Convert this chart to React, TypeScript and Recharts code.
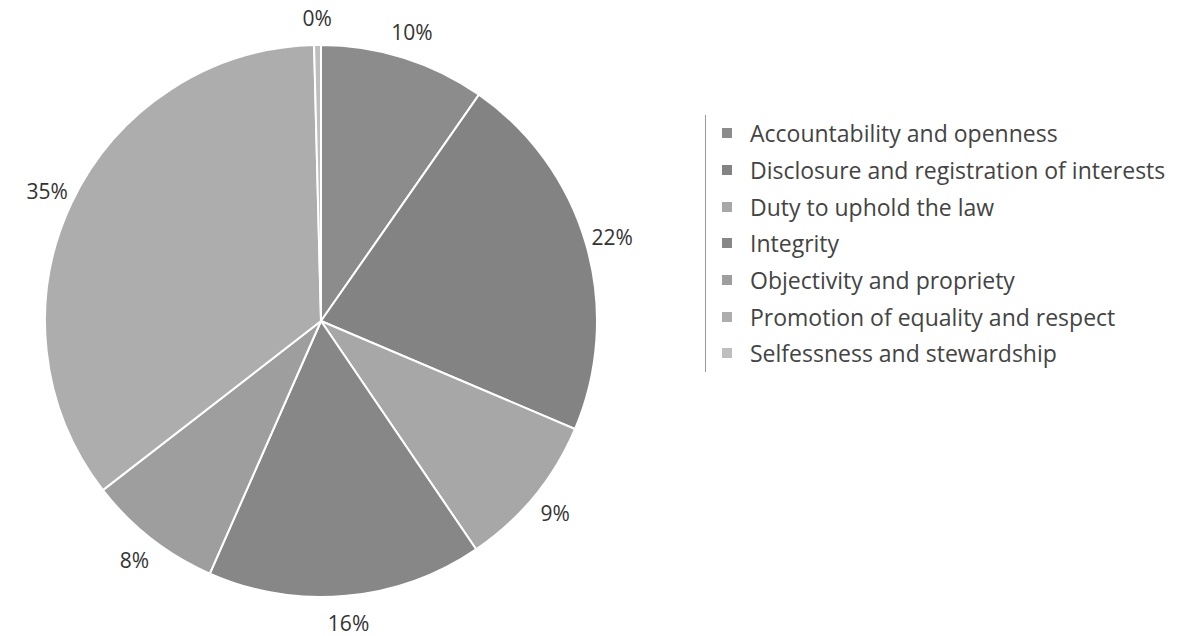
import { PieChart, Pie, Cell, Legend } from "recharts";

const categories = [
  "Accountability and openness",
  "Disclosure and registration of interests",
  "Duty to uphold the law",
  "Integrity",
  "Objectivity and propriety",
  "Promotion of equality and respect",
  "Selfessness and stewardship",
];
const shares = [9.7, 21.7, 9.1, 16.1, 7.9, 35.1, 0.4];
const colors = ["#8c8c8c", "#838383", "#a7a7a7", "#878787", "#9e9e9e", "#adadad", "#bebebe"];

const data = categories.map((name, i) => ({ name, value: shares[i] }));

const RAD = Math.PI / 180;
const FONT = "'Open Sans', Lato, sans-serif";

function renderLabel(props: any) {
  const { cx, cy, midAngle, outerRadius, value } = props;
  const r = outerRadius + 27;
  const x = cx + r * Math.cos(-midAngle * RAD);
  const y = cy + r * Math.sin(-midAngle * RAD);
  return (
    <text x={x} y={y} textAnchor="middle" dominantBaseline="central" fill="#333" fontSize={21} fontFamily={FONT}>
      {Math.round(value)}%
    </text>
  );
}

function LegendBox() {
  return (
    <div style={{ borderLeft: "1px solid #999", paddingLeft: 16, fontFamily: FONT }}>
      {categories.map((c, i) => (
        <div key={c} style={{ display: "flex", alignItems: "center", height: 36.7, fontSize: 23, color: "#444", whiteSpace: "nowrap" }}>
          <span style={{ width: 10, height: 10, background: colors[i], display: "inline-block", marginRight: 18, flexShrink: 0 }} />
          {c}
        </div>
      ))}
    </div>
  );
}

export default function App() {
  return (
    <div style={{ position: "absolute", left: 0, top: 0, background: "#fff" }}>
      <PieChart width={1177} height={636}>
        <Pie
          data={data}
          dataKey="value"
          nameKey="name"
          cx={316}
          cy={316}
          outerRadius={276}
          startAngle={90}
          endAngle={-270}
          stroke="#fff"
          strokeWidth={2}
          label={renderLabel}
          labelLine={false}
          isAnimationActive={false}
        >
          {data.map((d, i) => (
            <Cell key={d.name} fill={colors[i]} />
          ))}
        </Pie>
        <Legend content={<LegendBox />} wrapperStyle={{ position: "absolute", left: 705, top: 115, width: 472 }} />
      </PieChart>
    </div>
  );
}
